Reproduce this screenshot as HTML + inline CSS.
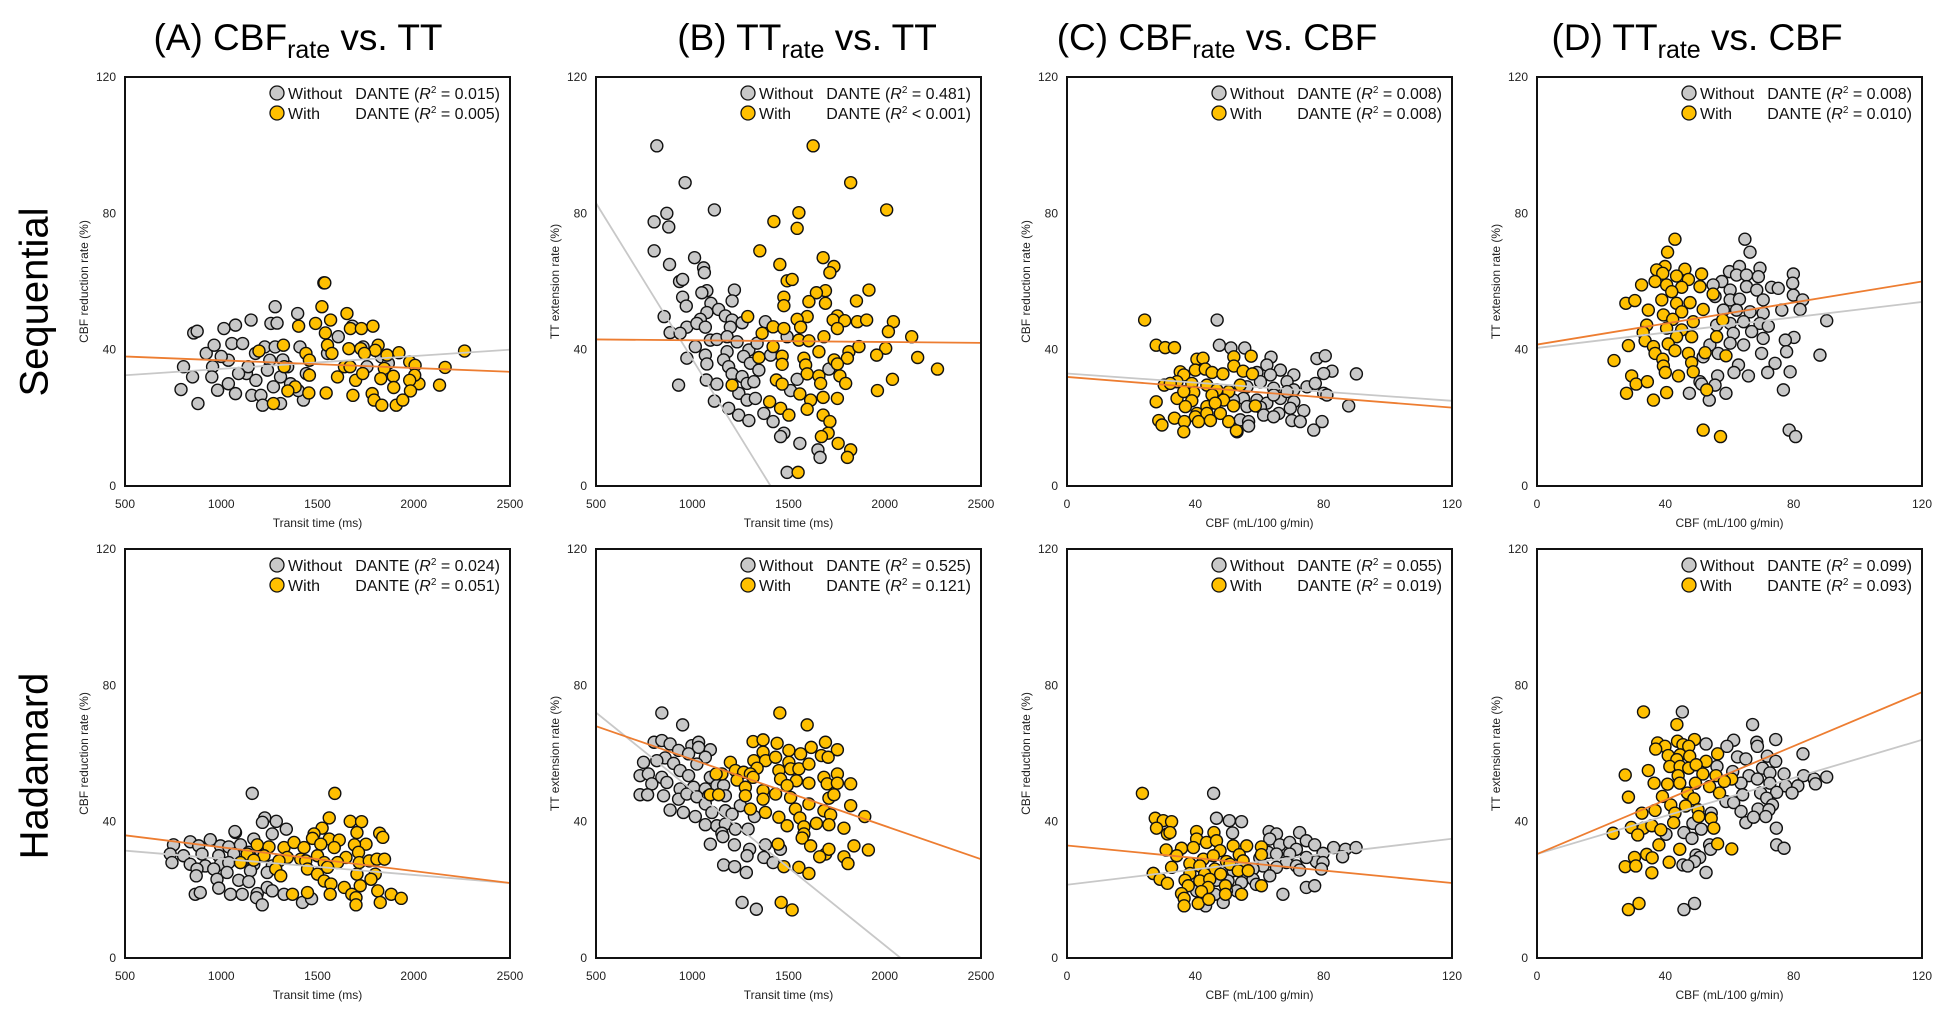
<!DOCTYPE html>
<html><head><meta charset="utf-8"><style>
html,body{margin:0;padding:0;background:#fff}
svg{display:block;font-family:"Liberation Sans",Arial,sans-serif}
</style></head><body>
<svg id="fig" width="1947" height="1010" viewBox="0 0 1947 1010" xmlns="http://www.w3.org/2000/svg">
<defs id="defs"></defs>
<text x="37" y="302" font-size="40" text-anchor="middle" dominant-baseline="middle" transform="rotate(-90 37 302)">Sequential</text>
<text x="37" y="766" font-size="40" text-anchor="middle" dominant-baseline="middle" transform="rotate(-90 37 766)">Hadamard</text>
<text x="298" y="50" font-size="37" text-anchor="middle">(A) CBF<tspan font-size="25" dy="8">rate</tspan><tspan dy="-8"> vs. TT</tspan></text>
<text x="807" y="50" font-size="37" text-anchor="middle">(B) TT<tspan font-size="25" dy="8">rate</tspan><tspan dy="-8"> vs. TT</tspan></text>
<text x="1217" y="50" font-size="37" text-anchor="middle">(C) CBF<tspan font-size="25" dy="8">rate</tspan><tspan dy="-8"> vs. CBF</tspan></text>
<text x="1697" y="50" font-size="37" text-anchor="middle">(D) TT<tspan font-size="25" dy="8">rate</tspan><tspan dy="-8"> vs. CBF</tspan></text>
</svg>
<script>
// ---- data ----
const yTicks=[0,40,80,120];
const ttTicks=[500,1000,1500,2000,2500];
const cbfTicks=[0,40,80,120];
const r2Without=["= 0.015","= 0.481","= 0.008","= 0.008","= 0.024","= 0.525","= 0.055","= 0.099"];
const r2With=["= 0.005","< 0.001","= 0.008","= 0.010","= 0.051","= 0.121","= 0.019","= 0.093"];
// regression lines: y at x-min and x-max of axis
const lineWithout=[[32.5,40],[83,-100],[33,25],[40.5,54],[31.5,22],[72,-19],[21.5,35],[30.5,64]];
const lineWith=[[38,33.5],[43,42],[32,23],[41.5,60],[36,22],[68,29],[33,22],[30.5,78]];

const aTopGray=[[857,44.9],[875,45.4],[791,28.3],[804,35],[851,32],[879,24.2],[922,38.9],[963,41.3],[955,35],[951,32],[981,28.1],[1014,46.2],[1055,41.8],[1074,47.2],[1037,36.9],[1037,30],[1074,27.1],[1111,41.8],[1131,33],[1155,48.7],[1159,26.6],[1206,26.6],[1215,23.7],[1258,47.7],[1226,40.8],[1252,36.9],[1271,29.1],[1280,52.6],[1290,47.8],[1280,40.8],[1308,24.2],[1308,32],[1345,35],[1397,50.6],[1409,40.8],[1427,25.2],[1442,33],[1533,59.6],[1552,38.9],[1608,43.8],[1681,46.9],[1737,40.8],[1757,35],[1832,37.9],[1140,35],[1178,38.9],[1868,36],[1000,38],[1090,33],[1180,31],[1240,34],[1320,37],[1360,30],[1400,28]];
const aTopOrange=[[1538,59.6],[1523,52.6],[1490,47.7],[1402,46.9],[1568,48.7],[1653,50.6],[1671,46.2],[1728,46.2],[1788,46.9],[1541,44.9],[1323,41.3],[1552,41.3],[1663,40.3],[1725,40.3],[1815,41.3],[1800,39.8],[1861,38.4],[1923,39.1],[2264,39.6],[1196,39.6],[1440,38.9],[1458,36.9],[1575,38.9],[1744,38.9],[1979,36.4],[2007,35.4],[2163,34.8],[1847,34.5],[1327,35],[1640,35],[2027,30],[2005,32.5],[1979,31],[1894,32.2],[1829,31.5],[1698,31],[1604,32],[1458,32.5],[1384,29.1],[1346,27.9],[1455,27.3],[1545,27.3],[1684,26.6],[1784,27.1],[1896,28.9],[2134,29.6],[1983,27.9],[1794,25.2],[1834,23.7],[1909,23.7],[1943,25.2],[1271,24.2],[1669,35],[1735,33]];
const bTopGray=[[816,99.8],[963,89],[1115,81],[868,80],[802,77.5],[878,76],[802,69],[1012,67],[882,65],[1059,64],[1063,62.6],[934,60],[950,60.6],[1219,57.5],[1076,57.3],[1050,56.7],[950,55.4],[1207,54.3],[1097,53.6],[969,52.8],[854,49.7],[1137,51.8],[1172,49.9],[1076,50.9],[1042,48.9],[972,46.6],[885,45],[937,44.8],[1024,47.7],[1068,46.6],[1207,48.7],[1259,47.9],[1198,46.6],[1380,48.2],[1493,43.8],[1094,42.8],[1128,43],[1181,43.8],[1233,42.3],[1016,40.9],[1068,38.4],[1181,39.4],[1294,39.9],[1337,41.9],[1407,38.4],[972,37.5],[1076,35.8],[1163,37],[1267,38],[1302,36],[1189,35],[1346,34],[1710,34.3],[1207,32.9],[1259,32.1],[1073,31.1],[1128,29.9],[929,29.6],[1285,30.1],[1320,30.6],[1545,31.3],[1242,27.2],[1285,25.2],[1328,25.7],[1115,24.9],[1189,22.8],[1241,20.8],[1294,19.2],[1372,21.3],[1420,18.9],[1511,28],[1476,15.5],[1459,14.5],[1559,12.5],[1653,10.6],[1664,8.4],[1493,4]];
const bTopOrange=[[1628,99.8],[1823,89],[2010,81],[1554,80.2],[1424,77.6],[1545,75.6],[1351,69],[1680,67],[1455,65],[1736,64.4],[1715,62.6],[1493,60.2],[1519,60.6],[1918,57.5],[1692,57.3],[1645,56.7],[1476,55.4],[1853,54.3],[1692,53.6],[1606,54.1],[1476,52.9],[1754,49.9],[1597,49.7],[1732,48.7],[1288,49.7],[1545,48.9],[1792,48.5],[1858,48.2],[1906,48.7],[2045,48.2],[1420,46.7],[1476,46.2],[1563,46.6],[1754,46.2],[2019,45.3],[1363,44.8],[2140,43.8],[1684,43.8],[1554,42.8],[1606,42.6],[1420,40.9],[1658,39.4],[1814,39.4],[1866,40.9],[2005,40.4],[1806,37.5],[1737,37],[1580,37.5],[1467,38.1],[1346,37.7],[1958,38.4],[2171,37.7],[1589,35.5],[1754,35.8],[1467,35.7],[2274,34.3],[1597,32.9],[1658,32.3],[1767,32.3],[1437,31.1],[2040,31.3],[1667,30.1],[1797,30.1],[1467,29.9],[1207,29.6],[1559,27],[1962,28],[1680,26],[1754,25.7],[1615,25.2],[1402,24.7],[1459,22.8],[1597,22.5],[1502,20.8],[1680,20.8],[1715,18.9],[1706,15.5],[1671,14.5],[1758,12.5],[1823,10.6],[1806,8.4],[1550,4]];
const cTopGray=[[46.8,48.7],[47.5,41.3],[51.1,40.5],[55.4,40.5],[63.6,37.8],[77.9,37.4],[80.5,38.2],[90.2,32.9],[82.6,33.7],[80,33],[62.3,35.5],[66.5,34],[70.7,32.6],[59.2,33.3],[63.4,32.6],[68.6,30.6],[74.8,29.1],[77.4,30.1],[60.3,30.6],[56.1,29.1],[64.4,28.7],[70.7,28.2],[80,27.2],[81,26.7],[55,25.7],[59.2,25.2],[62.3,24.3],[66.5,25.7],[70.7,24.7],[51.9,25.2],[56.1,23.3],[60.3,23.1],[66,21.3],[69.6,22.8],[73.8,22.1],[87.8,23.5],[61.3,20.8],[64.4,20.3],[54,19.4],[56.6,18.9],[56.6,17.6],[70.1,19.2],[72.7,18.9],[79.5,18.9],[76.9,16.4],[53,15.9],[64.4,26.7],[68.6,27.7]];
const cTopOrange=[[24.2,48.7],[27.8,41.3],[30.6,40.6],[33.5,40.6],[40.5,37.2],[42.4,37.5],[52,37.9],[57.4,38.1],[35.3,33.5],[36.4,32.6],[40,34],[43.1,34.3],[45.2,33.3],[48.6,32.9],[52,35.2],[54.9,33.7],[57.8,32.9],[30.3,29.6],[34.3,30.6],[38.9,30.1],[43.6,29.6],[46.7,28.2],[50.4,27.7],[54,29.6],[39.5,27.4],[45.2,26.7],[48.8,25.2],[34.3,25.7],[27.8,24.7],[38.9,25],[36.9,23.3],[43.6,23.3],[46.2,24.3],[51.9,23.5],[58.7,23.5],[40.5,21.3],[43.6,21.3],[47.8,21.3],[33.5,19.9],[40,20.3],[28.6,19.2],[29.6,17.9],[36.6,18.9],[41,18.9],[44.7,19.2],[50.4,18.9],[36.4,15.9],[52.8,16.2],[32.2,30.1],[36.4,27.7]];
const dTopGray=[[64.8,72.4],[66.4,68.6],[60,62.9],[63.1,64.4],[69.5,63.9],[79.9,62.2],[57.6,60],[62.2,61.9],[65.3,61.9],[69,61.4],[79.7,59.5],[73.1,58.3],[75.2,58],[54.9,59],[60.2,57.5],[65.3,58.5],[68.5,57.5],[79.9,56],[82.8,54.6],[55.5,55.6],[60.2,54.6],[63.1,54.8],[70.5,54.6],[76.3,51.6],[82,51.8],[58.1,51.6],[62.2,51.6],[66.4,51.1],[70.5,50.7],[56,47.2],[60.2,47.7],[64.4,48.2],[69.5,47.7],[72.1,46.9],[90.3,48.5],[61.2,44.8],[66.9,45.3],[70.5,43.3],[80.1,43.6],[77.4,42.8],[53.9,41.4],[60.2,41.9],[64.4,41.4],[70,38.9],[77.8,39.4],[88.2,38.4],[51.8,37.9],[56.5,38.9],[62.8,35.5],[74.2,36],[61.4,33.3],[65.9,32.3],[71.9,33.3],[78.9,33.5],[56.3,32.3],[50.8,30.6],[51.3,29.9],[55.5,29.6],[76.8,28.2],[47.5,27.2],[58.9,27.2],[53.7,25.2],[78.6,16.4],[80.6,14.5]];
const dTopOrange=[[43,72.4],[40.7,68.6],[39.9,64.4],[37.3,63.4],[39.2,62.4],[46.1,63.6],[51.3,62.2],[43.5,61.6],[47.2,60.6],[32.6,59],[36.8,60],[40.4,59],[45.1,58.3],[50.8,58.5],[42,57],[38.9,54.6],[27.7,53.6],[30.5,54.4],[43.5,53.6],[47.7,53.8],[54.9,56.3],[34.7,51.6],[39.4,50.2],[45.1,51.1],[51.8,51.8],[42.3,48.9],[48.7,48.2],[57.9,48.7],[34.2,47.2],[40.4,46.3],[45.1,45.8],[43.5,43.8],[48.2,43.8],[33.1,45],[56,43.8],[33.7,42.6],[40.9,41.7],[28.5,41.2],[36.3,40.9],[43,39.7],[47.2,38.9],[52.4,39.1],[58.9,38.2],[24,36.8],[36.8,38.9],[39.2,37.2],[48.2,36.2],[39.4,35.2],[40,33.3],[44.1,32.3],[48.7,33.5],[29.5,32.3],[30.9,29.9],[34.4,30.6],[52.9,28.2],[27.9,27.2],[40.4,27.4],[36.3,25.2],[51.8,16.4],[57.2,14.5]];
const aBotGray=[[1161,48.3],[1226,41.1],[1214,39.8],[1286,40.1],[1338,37.8],[1074,36.8],[1071,37.1],[943,34.7],[839,34.1],[752,33.2],[883,32.9],[996,32.9],[1039,32.6],[1100,33.2],[1169,34.9],[1265,36.4],[735,30.5],[804,30],[900,30.5],[987,30],[1065,30.5],[1143,31],[1204,31.5],[744,28],[839,27.5],[917,27],[996,27.5],[1039,28],[1100,28],[1169,27.5],[1265,27],[874,26.1],[961,26.1],[1030,25.1],[1152,25.6],[1239,25.1],[870,24.1],[978,23.1],[1091,22.8],[1143,22.4],[1239,20.7],[1265,19.7],[987,20.5],[865,18.7],[891,19.2],[1048,18.7],[1109,18.7],[1187,18.9],[1326,18.7],[1183,17.7],[1213,15.6],[1422,16.3],[1469,17.4]];
const aBotOrange=[[1590,48.3],[1561,41.1],[1670,40.1],[1729,40],[1524,38.1],[1482,36.4],[1705,36.8],[1823,36.6],[1839,35.4],[1474,35.1],[1561,34.9],[1613,34.6],[1752,33.4],[1692,33.2],[1187,33.2],[1248,32.6],[1326,32.4],[1378,33.9],[1430,32.4],[1517,33.4],[1587,32.4],[1713,31],[1135,30.5],[1222,30],[1343,29.5],[1413,29],[1500,30],[1648,29.5],[1169,28.7],[1100,28],[1300,28.5],[1439,28.5],[1535,28],[1604,28],[1717,28],[1769,28.5],[1809,29],[1848,29],[1283,26.1],[1448,26.1],[1552,26.6],[1309,24.1],[1500,24.6],[1705,24.6],[1800,24.6],[1535,22.6],[1570,21.7],[1722,21.2],[1778,23.1],[1639,20.7],[1370,18.7],[1448,19.2],[1566,18.7],[1678,18.7],[1813,19.7],[1883,18.7],[1935,17.5],[1700,17.7],[1826,16.3],[1700,15.6]];
const bBotGray=[[842,71.9],[950,68.4],[802,63.3],[842,63.8],[885,62.8],[929,60.9],[998,62.3],[1033,63.3],[1033,61.8],[1094,61.1],[1068,58.9],[981,59.9],[859,58.7],[747,57.4],[816,57.9],[903,57.1],[1024,56.9],[937,55],[981,53.5],[729,53.5],[772,54],[842,53],[1094,53],[1128,50.6],[1163,50.6],[790,51.1],[868,51.5],[937,49.6],[1007,50.1],[1068,49.6],[729,47.9],[768,47.9],[851,47.6],[929,46.6],[972,48.1],[1024,47.3],[1085,47.6],[1172,47.6],[885,43.4],[954,42.7],[1016,41.5],[1068,45.2],[1102,42.7],[1172,43.2],[1207,42.2],[1250,44.7],[1323,41.5],[1068,39.1],[1128,38.8],[1172,39.3],[1224,37.8],[1290,37.8],[1154,36.6],[1159,35.6],[1094,33.4],[1219,33.2],[1298,31.9],[1380,33.2],[1458,31.9],[1285,30],[1163,27.3],[1220,26.8],[1372,29.5],[1420,28],[1281,25.1],[1259,16.3],[1333,14.3]];
const bBotOrange=[[1455,71.9],[1597,68.4],[1316,63.5],[1368,64],[1441,63],[1502,60.9],[1563,59.9],[1618,61.8],[1692,63.3],[1754,61.1],[1671,59.4],[1706,58.9],[1368,60.4],[1320,57.9],[1381,57.9],[1433,58.9],[1502,57.4],[1198,57.4],[1337,55.7],[1224,55],[1267,54.5],[1302,54],[1450,55],[1511,55.5],[1554,55.5],[1606,56.9],[1154,54],[1124,54],[1233,52.2],[1316,53],[1459,52.5],[1541,52],[1684,53],[1754,54],[1276,50.1],[1368,49.1],[1493,50.6],[1606,51.3],[1701,51.1],[1754,51.3],[1823,51.1],[1094,47.9],[1137,47.9],[1276,47.6],[1368,46.6],[1433,48.1],[1511,47.1],[1710,46.9],[1736,47.9],[1302,43.7],[1380,42.7],[1450,41.3],[1536,43.7],[1559,41.1],[1606,45.2],[1684,43.2],[1719,42],[1823,44.7],[1896,41.5],[1493,38.8],[1580,38.5],[1645,39.5],[1710,39.1],[1788,38.1],[1580,36.4],[1571,35.2],[1446,33.4],[1615,32.9],[1693,30.5],[1710,31.9],[1840,32.9],[1915,31.7],[1662,29.7],[1788,29.7],[1809,27.7],[1476,26.8],[1554,26.6],[1606,24.8],[1462,16.3],[1519,14.1]];
const cBotGray=[[45.7,48.3],[46.6,41],[50.6,40.3],[54.4,40],[51.6,36.7],[63,37.1],[65.3,36.4],[72.5,36.8],[74.6,34.4],[77.2,33.2],[83.1,32.4],[86.8,31.9],[90.1,32.4],[85.9,29.7],[79.8,30.7],[77.7,28.3],[79.8,28],[63.2,34.9],[66.3,33.2],[69.4,33.9],[71.5,31.9],[62.7,31],[65.3,30.5],[69.4,30.5],[60.1,29.3],[74.6,29.5],[68.4,28],[71.5,27],[65.3,26.6],[61.1,27],[58,26.1],[72.5,25.8],[79.3,26.1],[55.9,25.1],[51.8,25.6],[63.2,24.1],[58,23.1],[54.4,22.1],[50.2,22.6],[46.6,22.8],[74.6,20.7],[77.2,21.2],[67.3,18.7],[52.9,19.7],[49.7,19.7],[48.7,16.3],[43.2,15.3],[46.1,18.7],[40.4,19.7],[59,21.6],[26.9,24.8]];
const cBotOrange=[[23.5,48.3],[27.5,41],[30,40.3],[32.6,40],[27.9,38.1],[31.3,36.4],[32.1,36.8],[40.4,37.1],[45.8,36.8],[40.4,34.9],[43.5,33.9],[46.6,34.4],[51.8,32.9],[56,32.9],[60.6,32.6],[35.7,32.2],[30.9,31.7],[39.4,32.4],[47.7,31.5],[53.7,30.3],[60.6,30.3],[34.2,30],[38.3,27.7],[42.5,29],[45.6,30],[49.7,28.3],[54.9,28.5],[32.6,26.6],[41.4,27],[46.1,26.1],[50.8,27.5],[26.9,24.8],[29,23.1],[31.3,21.9],[38.3,24.8],[42.9,24.6],[47.9,24.6],[53.4,25.6],[56.5,25.6],[36.8,22.8],[41.4,22.6],[44.5,23.1],[37.8,21.2],[44,20.7],[49.4,21.2],[60.6,21.2],[35.7,18.9],[41.9,19.5],[49.4,18.7],[54.4,18.7],[36.5,17.5],[40.9,16],[44.2,17.2],[36.5,15.3]];
const dBotGray=[[45.3,72.2],[67.2,68.5],[61.3,63.9],[74.4,64.1],[52.7,62.8],[68.5,63.3],[59.2,62.1],[68.7,62.1],[82.9,59.9],[62.5,59],[65.1,58.4],[71.8,59.2],[74.4,57.7],[56.1,56.2],[70.3,55.7],[61,54.7],[72.6,54.3],[77,54],[83.1,53.5],[86.4,52.5],[90.3,53.1],[66.1,53.5],[68.7,52.5],[63.6,51.3],[72.6,51.3],[77.5,50.5],[81.3,50.5],[86.8,51.1],[79.5,48.4],[74.7,48.6],[64.1,47.9],[69.7,48.4],[71.6,46.9],[73.4,44.9],[58.9,45.9],[61.3,45.6],[54.3,42.5],[63.6,43],[68.9,43.7],[72.3,43.5],[65.1,39.7],[67.5,41.3],[71.3,41.5],[74.6,38.1],[48.6,39.5],[51.2,37.8],[45.8,36.8],[40.2,36.3],[48.3,35.1],[53.8,33.2],[74.7,33.2],[77,32.2],[54.1,31.9],[49.6,30.2],[50.7,29.5],[49.1,28.3],[45.5,27.3],[47,27],[52.7,25.1],[45.8,14.2],[49.1,16]];
const dBotOrange=[[33.2,72.2],[43.6,68.5],[43.8,63.6],[49.1,64.1],[37.6,63.1],[39.9,62.1],[37,61.3],[45.5,62.6],[47.3,62.1],[40.9,59.4],[44.6,59.6],[47.6,59.2],[56.3,59.9],[43.6,58.2],[52.7,57.7],[41.4,56.2],[44.6,56.2],[47.3,55.7],[49.6,56.7],[34.7,55],[27.5,53.7],[44,53.5],[51.7,54],[55.8,53.5],[60.7,52.5],[36.5,51.3],[40.7,51],[44.5,51.3],[49.4,51.3],[58.4,51.8],[53.8,50.3],[46.9,48.4],[56.9,48.4],[28.5,47.2],[39.1,47.4],[48.9,46.7],[41.7,44.9],[46.3,44.6],[36.8,43.3],[32.7,42.5],[50.2,43.5],[54.3,41],[43,42.5],[29.4,38.3],[33.2,38.1],[35.8,38.8],[38.6,37.6],[42.6,39.7],[55.1,38.1],[50.4,41.5],[31.4,36.1],[23.7,36.6],[38,33.2],[44.5,31.9],[56.3,33.5],[60.7,32],[34.2,30.4],[35.9,29.4],[30.4,29.5],[27.5,26.8],[30.8,27],[41.2,28.1],[35.8,25],[28.5,14.2],[31.8,16]];

const grayPts=[aTopGray,bTopGray,cTopGray,dTopGray,aBotGray,bBotGray,cBotGray,dBotGray];
const orangePts=[aTopOrange,bTopOrange,cTopOrange,dTopOrange,aBotOrange,bBotOrange,cBotOrange,dBotOrange];

// ---- layout ----
const NS="http://www.w3.org/2000/svg";
const svg=document.getElementById('fig');
const defs=document.getElementById('defs');
const colX=[125,596,1067,1537], rowY=[77,549], W=385, H=409;
const panelLetters=['a','b','c','d'];
function mk(tag,attrs,parent){const e=document.createElementNS(NS,tag);for(const k in attrs)e.setAttribute(k,attrs[k]);(parent||svg).appendChild(e);return e;}

for(let p=0;p<8;p++){
  const col=p%4,row=Math.floor(p/4);
  const x0=colX[col],y0=rowY[row];
  const isTT=col<2;
  const xmin=isTT?500:0,xmax=isTT?2500:120;
  const sx=v=>x0+(v-xmin)/(xmax-xmin)*W;
  const sy=v=>y0+H-(v/120)*H;
  const pname=panelLetters[col]+(row===0?'-sequential':'-hadamard');
  const g=mk('g',{});
  
  
  const cp=mk('clipPath',{id:'cp'+p},defs);
  mk('rect',{x:x0,y:y0,width:W,height:H},cp);
  yTicks.forEach(t=>{const e=mk('text',{x:x0-9,y:sy(t)+4,'font-size':12,'text-anchor':'end',fill:'#222'},g);e.textContent=t;
    
    });
  const xt=isTT?ttTicks:cbfTicks;
  xt.forEach(t=>{const e=mk('text',{x:sx(t),y:y0+H+22,'font-size':12,'text-anchor':'middle',fill:'#222'},g);e.textContent=t;
    
    });
  const xtl=mk('text',{x:x0+W/2,y:y0+H+41,'font-size':12,'text-anchor':'middle',fill:'#222'},g);
  xtl.textContent=isTT?'Transit time (ms)':'CBF (mL/100 g/min)';
  
  
  const ytx=x0-37,yty=y0+H/2;
  const ytl=mk('text',{x:ytx,y:yty,'font-size':12,'text-anchor':'middle',fill:'#222',transform:`rotate(-90 ${ytx} ${yty})`},g);
  ytl.textContent=(col%2===0)?'CBF reduction rate (%)':'TT extension rate (%)';
  
  
  const pg=mk('g',{'clip-path':`url(#cp${p})`},g);
  grayPts[p].forEach(d=>{const c=mk('circle',{cx:sx(d[0]),cy:sy(d[1]),r:6,fill:'#c8c8c8',stroke:'#111','stroke-width':1.4},pg);
    
    });
  orangePts[p].forEach(d=>{const c=mk('circle',{cx:sx(d[0]),cy:sy(d[1]),r:6,fill:'#ffc000',stroke:'#111','stroke-width':1.4},pg);
    
    });
  const l1=mk('line',{x1:sx(xmin),y1:sy(lineWithout[p][0]),x2:sx(xmax),y2:sy(lineWithout[p][1]),stroke:'#c8c8c8','stroke-width':1.8},pg);
  
  
  const l2=mk('line',{x1:sx(xmin),y1:sy(lineWith[p][0]),x2:sx(xmax),y2:sy(lineWith[p][1]),stroke:'#ed7d31','stroke-width':1.8},pg);
  
  
  const box=mk('rect',{x:x0,y:y0,width:W,height:H,fill:'none',stroke:'#111','stroke-width':2},g);
  
  
  const R=x0+W;
  const lg=mk('g',{},g);
  
  
  [[0,'#c8c8c8','Without',r2Without[p]],[1,'#ffc000','With',r2With[p]]].forEach(([i,f,lab,r2])=>{
    const cy=y0+16+i*20;
    const c=mk('circle',{cx:R-233,cy:cy,r:7,fill:f,stroke:'#111','stroke-width':1.3},lg);
    
    
    const t1=mk('text',{x:R-222,y:cy+6,'font-size':16,fill:'#111'},lg);t1.textContent=lab;
    
    
    const t2=mk('text',{x:R-10,y:cy+6,'font-size':16,fill:'#111','text-anchor':'end'},lg);
    t2.innerHTML='DANTE (<tspan font-style="italic">R</tspan><tspan font-size="10" dy="-6">2</tspan><tspan dy="6"> '+r2+')</tspan>';
    
    
  });
}
</script>
</body></html>
